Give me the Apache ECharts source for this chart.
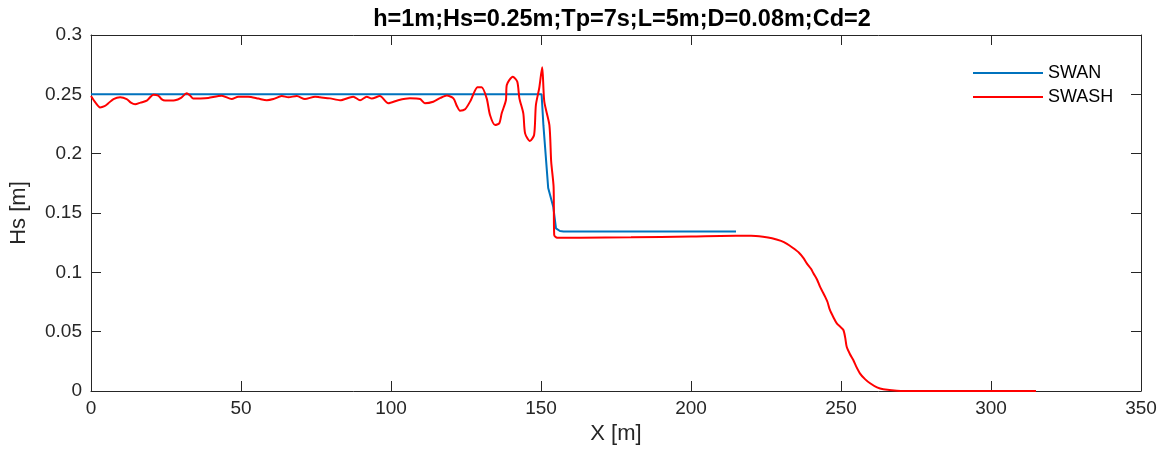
<!DOCTYPE html>
<html><head><meta charset="utf-8">
<script src="https://cdn.jsdelivr.net/npm/echarts@6/dist/echarts.min.js"></script>
<style>html,body{margin:0;padding:0;background:#fff}#c{width:1176px;height:457px}</style>
</head><body><div id="c"></div>
<script>
var titleText = 'h=1m;Hs=0.25m;Tp=7s;L=5m;D=0.08m;Cd=2';
var seriesNames = ['SWAN', 'SWASH'];
var xTicks = [0, 50, 100, 150, 200, 250, 300, 350];
var yTicks = [0, 0.05, 0.1, 0.15, 0.2, 0.25, 0.3];
var swanX = [0, 150.2, 150.8, 152.4, 154.1, 155.0, 156.3, 157.5, 215];
var swanY = [0.25, 0.25, 0.224, 0.171, 0.155, 0.137, 0.1348, 0.1345, 0.1345];
var swashX = [0, 1.5, 3, 4.5, 5.8, 7.5, 9.7, 11.9, 13.3, 14.7, 16.5, 18.6, 20.8, 22.4, 23.5, 24.7, 28, 30, 31.9, 33, 34.1, 36.5, 39.1, 43.6, 46.9, 49.1, 52.4, 55.8, 58.6, 60.8, 63.6, 65.8, 68.6, 71.3, 74.7, 76.3, 79.7, 83, 87.4, 89.7, 91.9, 93.6, 96.3, 99.1, 102.4, 106.3, 109.7, 111.3, 114.1, 116.5, 118.6, 120.8, 122, 123, 124.7, 126.6, 128.8, 130.2, 131.9, 133, 134.7, 136.1, 136.9, 138.3, 138.6, 140.6, 142.1, 142.8, 144.1, 144.7, 146.3, 147.7, 148.3, 149.4, 150.4, 151.1, 152.8, 153.4, 154.2, 154.4, 155.4, 163, 180, 200, 215, 220, 224, 227, 230, 232, 234, 236, 237.5, 238.6, 240, 240.8, 242, 243, 244, 244.7, 245.5, 246.3, 247.5, 248.6, 249.8, 250.8, 251.4, 251.9, 253, 254.1, 255, 256.3, 258, 259.7, 262, 264.1, 268.6, 275, 315];
var swashY = [0.2486, 0.243, 0.239, 0.240, 0.2425, 0.246, 0.2475, 0.246, 0.243, 0.2416, 0.243, 0.2447, 0.2497, 0.249, 0.246, 0.2447, 0.245, 0.247, 0.2509, 0.249, 0.2464, 0.2465, 0.247, 0.2489, 0.246, 0.248, 0.248, 0.2464, 0.245, 0.246, 0.2486, 0.2475, 0.2486, 0.246, 0.248, 0.2475, 0.2466, 0.245, 0.248, 0.245, 0.248, 0.2464, 0.2486, 0.2425, 0.245, 0.2466, 0.246, 0.2425, 0.2438, 0.247, 0.249, 0.2466, 0.240, 0.2362, 0.2374, 0.245, 0.2559, 0.256, 0.2466, 0.2326, 0.2241, 0.2256, 0.234, 0.245, 0.2579, 0.2649, 0.2606, 0.2466, 0.234, 0.2171, 0.2107, 0.2157, 0.241, 0.2551, 0.2728, 0.2438, 0.2241, 0.1932, 0.1721, 0.1315, 0.1292, 0.1292, 0.1295, 0.1302, 0.1308, 0.1308, 0.1300, 0.1288, 0.1265, 0.1240, 0.1205, 0.1165, 0.112, 0.1076, 0.103, 0.0992, 0.094, 0.0879, 0.083, 0.0795, 0.075, 0.0683, 0.062, 0.057, 0.054, 0.0514, 0.045, 0.0373, 0.031, 0.0261, 0.021, 0.0149, 0.0100, 0.0065, 0.003, 0.0014, 0.0003, 0, 0];

function zip(xs, ys){ return xs.map(function(x,i){ return [x, ys[i]]; }); }
var font = "'Liberation Sans', Arial, Helvetica, sans-serif";
var txt = '#262626';
function axisBase(){
  return {
    axisLine: {show: true, onZero: false, lineStyle: {color: txt, width: 1}},
    axisTick: {show: true, inside: true, length: 10, lineStyle: {color: txt}},
    splitLine: {show: false}
  };
}
var xMin = xTicks[0], xMax = xTicks[xTicks.length-1], xStep = xTicks[1]-xTicks[0];
var yMin = yTicks[0], yMax = yTicks[yTicks.length-1], yStep = yTicks[1]-yTicks[0];
var chart = echarts.init(document.getElementById('c'), null, {renderer: 'canvas'});
chart.setOption({
  animation: false,
  backgroundColor: '#fff',
  title: {text: titleText, left: 617, textAlign: 'center', top: 3,
    textStyle: {fontFamily: font, fontSize: 23.5, fontWeight: 'bold', color: '#000'}},
  grid: {left: 91, right: 35, top: 35, bottom: 66},
  legend: {orient: 'vertical', left: 968, top: 59, icon: 'rect', itemWidth: 70, itemHeight: 2, itemGap: 6,
    textStyle: {fontFamily: font, fontSize: 18, color: '#000'}, data: seriesNames},
  xAxis: [
    Object.assign(axisBase(), {type: 'value', min: xMin, max: xMax, interval: xStep, position: 'bottom',
      name: 'X [m]', nameLocation: 'middle', nameGap: 29,
      nameTextStyle: {fontFamily: font, fontSize: 22, color: txt},
      axisLabel: {fontFamily: font, fontSize: 19, color: txt, margin: 8}}),
    Object.assign(axisBase(), {type: 'value', min: xMin, max: xMax, interval: xStep, position: 'top',
      axisLabel: {show: false}})
  ],
  yAxis: [
    Object.assign(axisBase(), {type: 'value', min: yMin, max: yMax, interval: yStep, position: 'left',
      name: 'Hs [m]', nameLocation: 'middle', nameGap: 61,
      nameTextStyle: {fontFamily: font, fontSize: 22, color: txt},
      axisLabel: {fontFamily: font, fontSize: 19, color: txt, margin: 9}}),
    Object.assign(axisBase(), {type: 'value', min: yMin, max: yMax, interval: yStep, position: 'right',
      axisLabel: {show: false}})
  ],
  series: [
    {name: seriesNames[0], type: 'line', data: zip(swanX, swanY), showSymbol: false, symbol: 'none',
      itemStyle: {color: '#0072BD'}, lineStyle: {color: '#0072BD', width: 2}, z: 3},
    {name: seriesNames[1], type: 'line', data: zip(swashX, swashY), showSymbol: false, symbol: 'none', smooth: 0.25,
      itemStyle: {color: '#FF0000'}, lineStyle: {color: '#FF0000', width: 2}, z: 4}
  ]
});
</script></body></html>
